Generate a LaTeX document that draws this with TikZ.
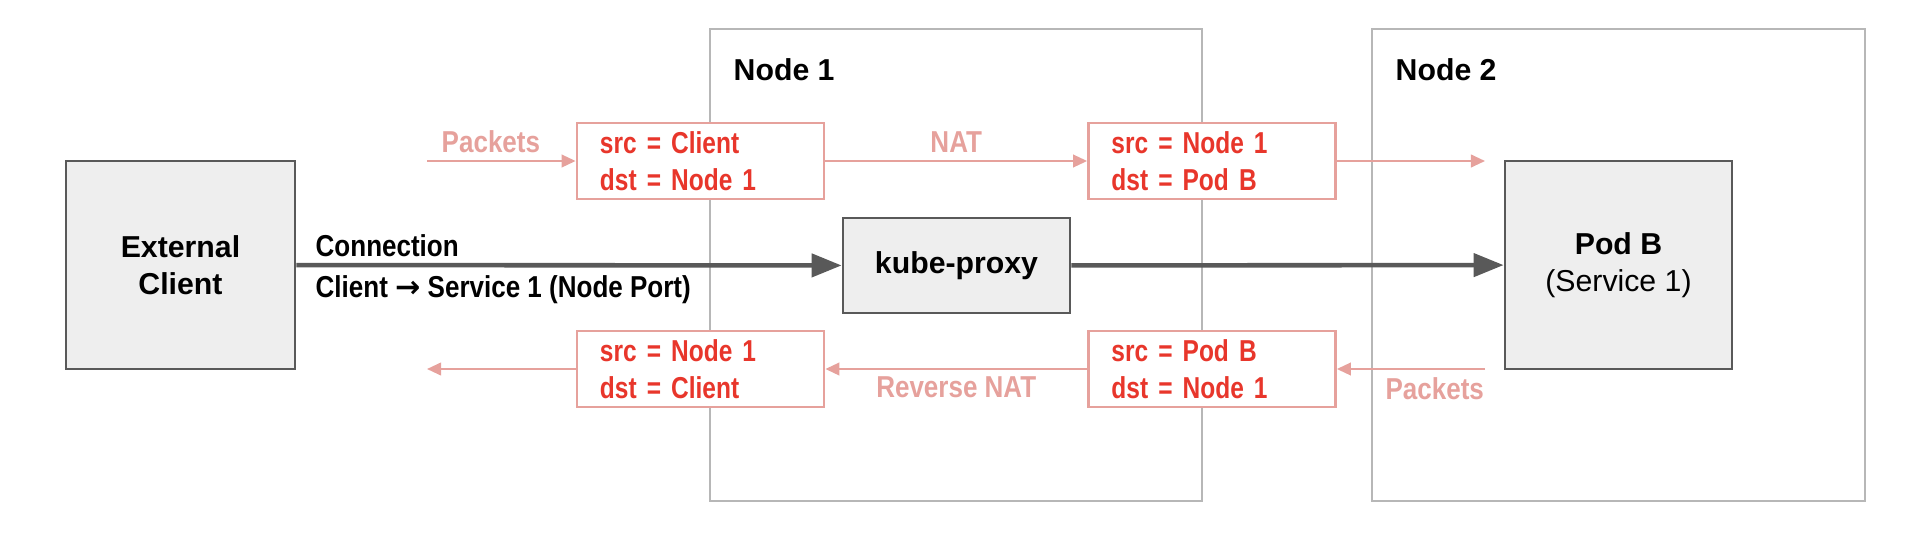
\documentclass[tikz,border=0pt]{standalone}
\usepackage{fontspec}
\setmainfont{Liberation Sans}
\newfontfamily\narrowsf{Liberation Sans}[FakeStretch=0.86]
\newfontfamily\pktsf{Liberation Sans}[FakeStretch=0.81]
\newfontfamily\arrowsf{DejaVu Sans}
\usetikzlibrary{arrows.meta}
\definecolor{pktred}{HTML}{E8362B}
\definecolor{pktpink}{HTML}{E6A19C}
\definecolor{boxgray}{HTML}{EEEEEE}
\definecolor{linegray}{HTML}{595959}
\definecolor{hostgray}{HTML}{B7B7B7}
\newcommand\figsize{\fontsize{8.6}{10.6}\selectfont}
\tikzset{%
  host/.style    = {draw=hostgray, line width=0.6pt, inner sep=0pt},%
  hostlbl/.style = {anchor=base west, inner sep=0pt, font=\figsize\bfseries},%
  greybox/.style = {draw=linegray, fill=boxgray, line width=0.75pt,%
                    align=center, font=\figsize\bfseries},%
  pktbox/.style  = {draw=pktpink, fill=white, line width=0.75pt,%
                    align=left, text width=2.01cm, inner xsep=0.23cm,%
                    inner ysep=1pt, minimum height=0.76cm,%
                    text=pktred, font=\figsize\pktsf\bfseries},%
  pktlbl/.style  = {text=pktpink, font=\figsize\narrowsf\bfseries,%
                    inner xsep=0pt, inner ysep=2pt},%
  connlbl/.style = {anchor=base west, font=\figsize\narrowsf\bfseries, inner sep=0pt},%
  flow/.style    = {draw=pktpink, line width=0.6pt, -{Triangle[length=4pt,width=3.6pt]}},%
  conn/.style    = {draw=linegray, line width=1.3pt, -{Triangle[length=8.5pt,width=6.5pt]}}%
}
\begin{document}
\begin{tikzpicture}[x=0.01cm,y=-0.01cm,
	every node/.style = {font=\figsize}]
	\useasboundingbox (0,0) rectangle (1914,542);
	% the two hosts
	\node [host, minimum width=4.92cm, minimum height=4.72cm] (nodeone) at (956,265) {};
	\node [host, minimum width=4.93cm, minimum height=4.72cm] (nodetwo) at (1618.5,265) {};
	\node [hostlbl] (nodeonelbl) at (733,80) {Node 1};
	\node [hostlbl] (nodetwolbl) at (1395,80) {Node 2};
	% endpoints
	\node [greybox, minimum width=2.29cm, minimum height=2.08cm] (client) at (180.5,265) {External\\Client};
	\node [greybox, minimum width=2.27cm, minimum height=0.95cm] (proxy) at (956.5,265.5) {kube-proxy};
	\node [greybox, minimum width=2.27cm, minimum height=2.08cm] (podb) at (1618.5,265) {Pod B\\{\mdseries (Service 1)}};
	% packet headers
	\node [pktbox] (pktA) at (700.5,161) {src = Client\\dst = Node 1};
	\node [pktbox] (pktB) at (1212,161) {src = Node 1\\dst = Pod B};
	\node [pktbox] (pktC) at (700.5,369) {src = Node 1\\dst = Client};
	\node [pktbox] (pktD) at (1212,369) {src = Pod B\\dst = Node 1};
	\coordinate (pktin) at (427,161);
	\coordinate (podin) at (1485,161);
	\coordinate (podout) at (1485,369);
	\coordinate (pktout) at (427,369);
	% request path
	\draw [flow] (pktin) -- node [pktlbl, above, pos=0.43] (lblin) {Packets} (pktA);
	\draw [flow] (pktA) -- node [pktlbl, above] (lblnat) {NAT} (pktB);
	\draw [flow] (pktB) -- (podin);
	% reply path
	\draw [flow] (podout) -- node [pktlbl, anchor=north east, pos=0] (lblout) {Packets} (pktD);
	\draw [flow] (pktD) -- node [pktlbl, below] (lblrnat) {Reverse NAT} (pktC);
	\draw [flow] (pktC) -- (pktout);
	% connection
	\draw [conn] (client) -- (proxy);
	\draw [conn] (proxy) -- (podb);
	\node [connlbl] (connname) at (315,256) {Connection};
	\node [connlbl] (connpath) at (315,297) {Client {\arrowsf\bfseries →} Service 1 (Node Port)};
\end{tikzpicture}
\end{document}
